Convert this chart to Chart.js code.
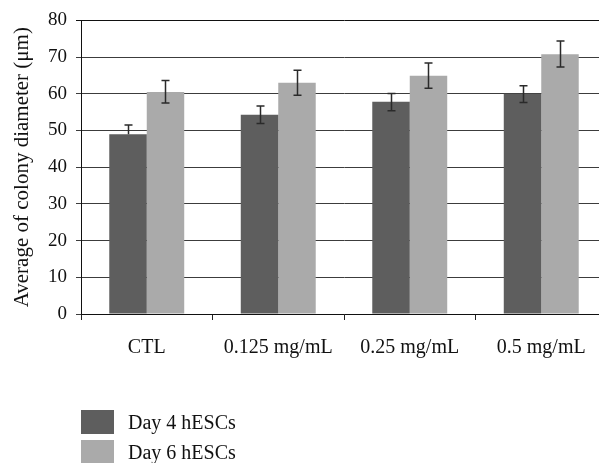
<!DOCTYPE html>
<html>
<head>
<meta charset="utf-8">
<script src="https://cdn.jsdelivr.net/npm/chart.js@4.4.1/dist/chart.umd.min.js"></script>
<style>
  html, body { margin: 0; padding: 0; background: #fff; overflow: hidden; }
  #wrap { position: relative; width: 608px; height: 463px; }
  #legend { position: absolute; left: 81px; top: 410px; font-family: "Liberation Serif", serif; font-size: 20px; color: #111; }
  .item { display: flex; align-items: center; height: 24px; margin-bottom: 6px; }
  .sw { width: 33px; height: 24px; margin-right: 14px; }
</style>
</head>
<body>
<div id="wrap">
  <canvas id="c" width="608" height="463"></canvas>
  <div id="legend"></div>
</div>
<script>
const categories = ["CTL", "0.125 mg/mL", "0.25 mg/mL", "0.5 mg/mL"];
const seriesNames = ["Day 4 hESCs", "Day 6 hESCs"];
const day4 = [49.0, 54.3, 57.8, 60.0];
const day6 = [60.5, 63.0, 64.9, 70.8];
const day4ErrPlus = [2.5, 2.4, 2.3, 2.2];
const day4ErrMinus = [0, 2.4, 2.4, 2.4];
const day6ErrPlus = [3.1, 3.4, 3.5, 3.6];
const day6ErrMinus = [3.0, 3.4, 3.4, 3.5];
const yTicks = [0, 10, 20, 30, 40, 50, 60, 70, 80];
const colors = ["#5e5e5e", "#aaaaaa"];

const errs = [
  { plus: day4ErrPlus, minus: day4ErrMinus },
  { plus: day6ErrPlus, minus: day6ErrMinus }
];

const errorBarPlugin = {
  id: "errorBars",
  afterDatasetsDraw(chart) {
    const ctx = chart.ctx;
    const y = chart.scales.y;
    ctx.save();
    ctx.strokeStyle = "#2a2a2a";
    ctx.lineWidth = 1.5;
    chart.data.datasets.forEach((ds, di) => {
      const meta = chart.getDatasetMeta(di);
      meta.data.forEach((bar, i) => {
        const v = ds.data[i];
        const top = y.getPixelForValue(v + errs[di].plus[i]);
        const bot = y.getPixelForValue(v - errs[di].minus[i]);
        const x = Math.round(bar.x) + 0.5;
        const cw = 4;
        ctx.beginPath();
        ctx.moveTo(x, top); ctx.lineTo(x, bot);
        ctx.moveTo(x - cw, top); ctx.lineTo(x + cw, top);
        if (errs[di].minus[i] > 0) { ctx.moveTo(x - cw, bot); ctx.lineTo(x + cw, bot); }
        ctx.stroke();
      });
    });
    ctx.restore();
  }
};

const serif = "'Liberation Serif', 'Times New Roman', serif";

new Chart(document.getElementById("c"), {
  type: "bar",
  data: {
    labels: categories,
    datasets: [
      { label: seriesNames[0], data: day4, backgroundColor: colors[0] },
      { label: seriesNames[1], data: day6, backgroundColor: colors[1] }
    ]
  },
  options: {
    responsive: false,
    animation: false,
    layout: { padding: { top: 18, right: 1, bottom: 99, left: 0 } },
    datasets: { bar: { categoryPercentage: 0.57, barPercentage: 1.0 } },
    plugins: { legend: { display: false }, tooltip: { enabled: false } },
    scales: {
      x: {
        grid: { display: true, drawOnChartArea: false, offset: true, tickLength: 6, color: "#222", lineWidth: 1 },
        border: { display: true, color: "#111", width: 1 },
        ticks: { font: { family: serif, size: 20 }, color: "#111", padding: 16 },
        afterFit(scale) { scale.height = 50; }
      },
      y: {
        min: 0, max: 80,
        afterBuildTicks(scale) { scale.ticks = yTicks.map(v => ({ value: v })); },
        grid: {
          tickLength: 5,
          color: ctx => ctx.tick && ctx.tick.value === 80 ? "#111" : "#3c3c3c",
          lineWidth: 1
        },
        border: { display: true, color: "#111", width: 1 },
        ticks: { font: { family: serif, size: 19 }, color: "#111", padding: 9 },
        title: {
          display: true,
          text: "Average of colony diameter (μm)",
          font: { family: serif, size: 21 },
          color: "#111",
          padding: { top: 10, bottom: 0 }
        },
        afterFit(scale) { scale.width = 81; }
      }
    }
  },
  plugins: [errorBarPlugin]
});

const lg = document.getElementById("legend");
seriesNames.forEach((n, i) => {
  const d = document.createElement("div");
  d.className = "item";
  const s = document.createElement("div");
  s.className = "sw"; s.style.background = colors[i];
  const t = document.createElement("span");
  t.textContent = n;
  d.appendChild(s); d.appendChild(t);
  lg.appendChild(d);
});
</script>
</body>
</html>
